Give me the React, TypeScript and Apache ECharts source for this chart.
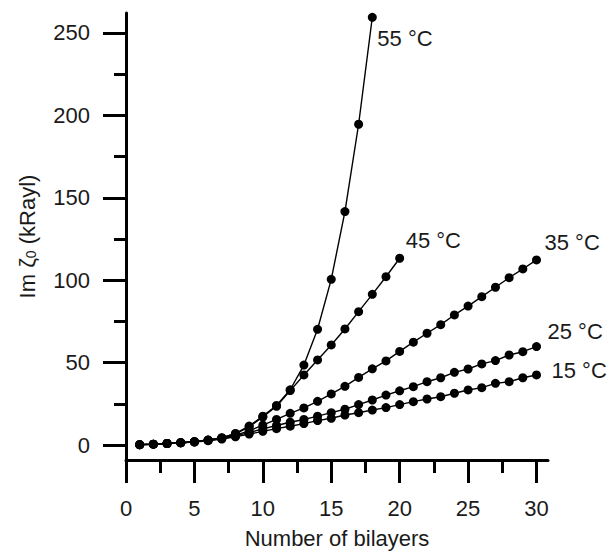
import React, { useEffect, useRef } from "react";
import * as echarts from "echarts";

// Number of bilayers (x values)
const bilayers = [1, 2, 3, 4, 5, 6, 7, 8, 9, 10, 11, 12, 13, 14, 15, 16, 17, 18, 19, 20, 21, 22, 23, 24, 25, 26, 27, 28, 29, 30];

// Im zeta_0 (kRayl) per temperature
const im55 = [0.2, 0.5, 0.9, 1.4, 2.0, 3.0, 4.4, 7.0, 11.5, 17.5, 24.0, 33.5, 48.5, 70.2, 100.5, 141.6, 194.6, 259.5];
const im45 = [0.2, 0.5, 0.9, 1.4, 2.0, 3.0, 4.3, 6.8, 11.0, 17.0, 23.5, 33.0, 42.5, 51.6, 60.7, 70.4, 80.9, 91.4, 102.1, 113.3];
const im35 = [0.2, 0.5, 0.9, 1.4, 2.0, 2.9, 4.1, 6.0, 8.6, 12.0, 15.5, 19.2, 22.5, 26.5, 31.0, 35.6, 41.0, 46.2, 51.0, 56.8, 62.4, 67.8, 73.0, 78.9, 84.3, 90.0, 95.7, 101.5, 106.8, 112.3];
const im25 = [0.2, 0.5, 0.9, 1.4, 1.9, 2.8, 3.9, 5.5, 7.5, 9.8, 11.8, 13.8, 15.5, 17.5, 19.6, 21.7, 24.5, 27.3, 30.3, 32.9, 35.4, 38.4, 40.8, 44.1, 46.1, 49.2, 51.2, 54.6, 56.6, 59.7];
const im15 = [0.2, 0.5, 0.9, 1.3, 1.8, 2.6, 3.6, 5.0, 6.6, 8.3, 9.9, 11.4, 13.0, 14.8, 16.2, 18.2, 19.6, 21.2, 22.7, 24.5, 26.3, 27.9, 29.3, 31.4, 33.4, 34.8, 37.4, 38.4, 40.8, 42.5];

const seriesNames = ["55 °C", "45 °C", "35 °C", "25 °C", "15 °C"];

// Tick values
const xMajorTicks = [0, 5, 10, 15, 20, 25, 30];
const xMinorTicks = [2.5, 7.5, 12.5, 17.5, 22.5, 27.5];
const yMajorTicks = [0, 50, 100, 150, 200, 250];
const yMinorTicks = [25, 75, 125, 175, 225];

export default function App() {
  const ref = useRef<HTMLDivElement>(null);

  useEffect(() => {
    if (!ref.current) return;
    const chart = echarts.init(ref.current, null, { renderer: "svg" });
    const font = "'Liberation Sans', Arial, Helvetica, sans-serif";
    const textColor = "#1a1a1a";
    const axisColor = "#000";
    const xMin = 0;
    const xMax = 30.84;
    const yMin = -9.1;
    const yMax = 262.1;

    const valueSets = [im55, im45, im35, im25, im15];
    const labelOffsets: [number, number][] = [
      [5, 21],
      [6, -18],
      [8, -17],
      [11, -15],
      [15, -4],
    ];

    const axisLineStyle = { color: axisColor, width: 3 };

    chart.setOption({
      animation: false,
      backgroundColor: "#fff",
      grid: {
        left: 126,
        right: 60,
        top: 13,
        bottom: 93,
        containLabel: false,
        outerBoundsMode: "none",
      },
      xAxis: [
        {
          type: "value",
          min: xMin,
          max: xMax,
          position: "bottom",
          name: "Number of bilayers",
          nameLocation: "middle",
          nameGap: 67,
          nameTextStyle: { fontSize: 22, color: textColor, fontFamily: font },
          axisLine: { show: true, onZero: false, lineStyle: axisLineStyle },
          axisTick: { show: true, inside: false, length: 23, lineStyle: axisLineStyle, customValues: xMajorTicks },
          axisLabel: { show: true, customValues: xMajorTicks, margin: 37, fontSize: 22, color: textColor, fontFamily: font },
          splitLine: { show: false },
        },
        {
          type: "value",
          min: xMin,
          max: xMax,
          position: "bottom",
          axisLine: { show: false, onZero: false },
          axisTick: { show: true, inside: false, length: 13, lineStyle: axisLineStyle, customValues: xMinorTicks },
          axisLabel: { show: false, customValues: xMinorTicks },
          splitLine: { show: false },
        },
      ],
      yAxis: [
        {
          type: "value",
          min: yMin,
          max: yMax,
          position: "left",
          name: "Im ζ{sub|0} (kRayl)",
          nameLocation: "middle",
          nameGap: 88,
          nameRotate: 90,
          nameTextStyle: {
            fontSize: 22,
            color: textColor,
            fontFamily: font,
            rich: {
              sub: { fontSize: 14, color: textColor, fontFamily: font, verticalAlign: "bottom", padding: [8, 0, 0, 0] },
            },
          },
          axisLine: { show: true, onZero: false, lineStyle: axisLineStyle },
          axisTick: { show: true, inside: false, length: 23, lineStyle: axisLineStyle, customValues: yMajorTicks },
          axisLabel: { show: true, customValues: yMajorTicks, margin: 36, fontSize: 22, color: textColor, fontFamily: font },
          splitLine: { show: false },
        },
        {
          type: "value",
          min: yMin,
          max: yMax,
          position: "left",
          axisLine: { show: false, onZero: false },
          axisTick: { show: true, inside: false, length: 12, lineStyle: axisLineStyle, customValues: yMinorTicks },
          axisLabel: { show: false, customValues: yMinorTicks },
          splitLine: { show: false },
        },
      ],
      series: valueSets.map((vals, si) => ({
        type: "line",
        name: seriesNames[si],
        xAxisIndex: 0,
        yAxisIndex: 0,
        data: vals.map((v, i) => [bilayers[i], v]),
        symbol: "circle",
        symbolSize: 9,
        showAllSymbol: true,
        clip: false,
        itemStyle: { color: "#000" },
        lineStyle: { color: "#000", width: 1.4 },
        emphasis: { disabled: true },
        endLabel: {
          show: true,
          formatter: seriesNames[si],
          distance: 0,
          offset: labelOffsets[si],
          align: "left",
          verticalAlign: "middle",
          fontSize: 22,
          color: textColor,
          fontFamily: font,
        },
      })),
    });

    return () => {
      chart.dispose();
    };
  }, []);

  return (
    <div
      ref={ref}
      style={{ position: "absolute", left: 0, top: 0, width: 608, height: 553, background: "#fff" }}
    />
  );
}
